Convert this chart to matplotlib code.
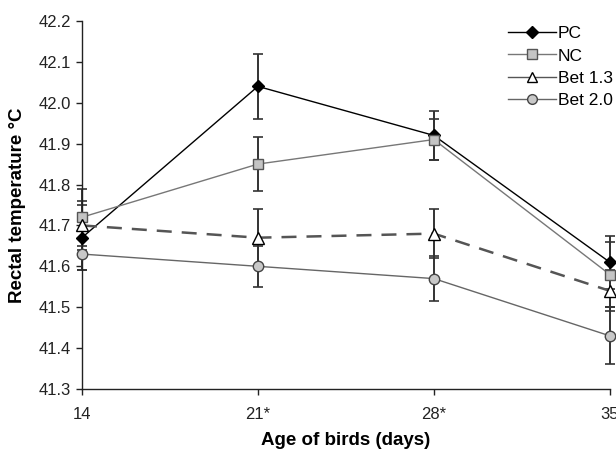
import numpy as np
import matplotlib
matplotlib.use("Agg")
import matplotlib.pyplot as plt

ages = ["14", "21*", "28*", "35"]

pc = [41.67, 42.04, 41.92, 41.61]
pc_err = [0.08, 0.08, 0.06, 0.065]
nc = [41.72, 41.85, 41.91, 41.58]
nc_err = [0.07, 0.067, 0.05, 0.08]
bet13 = [41.70, 41.67, 41.68, 41.54]
bet13_err = [0.06, 0.07, 0.06, 0.05]
bet20 = [41.63, 41.60, 41.57, 41.43]
bet20_err = [0.04, 0.05, 0.055, 0.07]

plt.rcParams['font.family'] = ['Liberation Sans', 'DejaVu Sans']

fig = plt.figure(figsize=(6.16, 4.55), dpi=100)
ax = fig.add_axes([0.133, 0.145, 0.857, 0.809])

x = np.arange(len(ages))
err_kw = dict(ecolor='#333333', elinewidth=1.4, capsize=3.8, capthick=1.2, clip_on=False)

series = [
    ("PC", pc, pc_err, dict(color='black', lw=1.0, ls='-', marker='D', ms=6.5,
                            mfc='black', mec='black')),
    ("NC", nc, nc_err, dict(color='#777777', lw=1.0, ls='-', marker='s', ms=7,
                            mfc='#c4c4c4', mec='#555555', mew=1.0)),
    ("Bet 1.3", bet13, bet13_err, dict(color='#555555', lw=1.8, ls=(0, (6, 4)), marker='^', ms=8,
                                       mfc='white', mec='black', mew=1.0)),
    ("Bet 2.0", bet20, bet20_err, dict(color='#666666', lw=1.0, ls='-', marker='o', ms=7.5,
                                       mfc='#c8c8c8', mec='#444444', mew=1.0)),
]

handles = []
for name, vals, errs, st in series:
    ax.errorbar(x, vals, yerr=errs, fmt='none', **err_kw)
    h, = ax.plot(x, vals, label=name, clip_on=False, zorder=3, **st)
    handles.append(h)

# legend handles drawn with thin solid lines
leg_handles = []
for h in handles:
    lh, = ax.plot([], [], color=h.get_color(), lw=1.0, ls='-', marker=h.get_marker(),
                  ms=h.get_markersize() - 0.5, mfc=h.get_markerfacecolor(),
                  mec=h.get_markeredgecolor(), label=h.get_label())
    leg_handles.append(lh)

fig.legend(handles=leg_handles, loc='upper left', bbox_to_anchor=(0.825, 0.943),
           frameon=False, fontsize=12.5, handlelength=2.75, handletextpad=0.12,
           labelspacing=0.42, borderpad=0, borderaxespad=0)

ax.set_xlim(0, 3)
ax.set_ylim(41.3, 42.2)
ax.set_xticks(x)
ax.set_xticklabels(ages)
yt = np.arange(41.3, 42.21, 0.1)
ax.set_yticks(yt)
ax.set_yticklabels([f"{v:.1f}" for v in yt])
ax.tick_params(axis='both', direction='out', length=4, width=1, labelsize=12, colors='#222222')
ax.tick_params(axis='x', pad=9)
ax.tick_params(axis='y', pad=4)

for s in ['top', 'right']:
    ax.spines[s].set_visible(False)
for s in ['left', 'bottom']:
    ax.spines[s].set_linewidth(1.0)
    ax.spines[s].set_color('#222222')

ax.set_xlabel("Age of birds (days)", fontsize=13.5, fontweight='bold', labelpad=7)
ax.set_ylabel("Rectal temperature °C", fontsize=13.5, fontweight='bold', labelpad=9)

fig.savefig("out.png", dpi=100)
